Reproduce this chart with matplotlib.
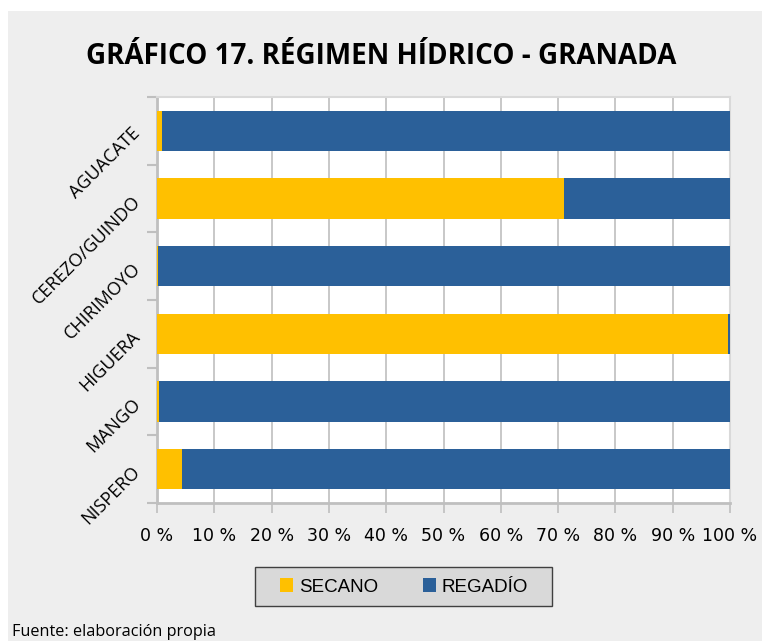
#!/usr/bin/env python3
"""
Gráfico 17 - Régimen hídrico, Granada (barras apiladas al 100 %)
"""

import matplotlib
matplotlib.use('Agg')
import matplotlib.pyplot as plt
from matplotlib.patches import Rectangle
import numpy as np

# Datos
cultivos = ['AGUACATE', 'CEREZO/GUINDO', 'CHIRIMOYO', 'HIGUERA', 'MANGO', 'NISPERO']
secano = [0.9, 71.0, 0.2, 99.6, 0.4, 4.4]
regadio = [99.1, 29.0, 99.8, 0.4, 99.6, 95.6]
xticks_pct = [0, 10, 20, 30, 40, 50, 60, 70, 80, 90, 100]

amarillo = '#FFC000'
azul = '#2B6099'
gris_fondo = '#EEEEEE'
gris_linea = '#BFBFBF'


def main():
    fig = plt.figure(figsize=(7.62, 6.41), dpi=100)
    fig.patch.set_facecolor('white')

    # fondo gris del gráfico
    fig.patches.append(Rectangle((8 / 762, 0), 1, 1 - 11 / 641, transform=fig.transFigure,
                                 facecolor=gris_fondo, edgecolor='none', zorder=-10))

    ax = fig.add_axes([157 / 762, 1 - 503 / 641, 573 / 762, 406 / 641])
    ax.set_facecolor('white')

    y = np.arange(len(cultivos))
    ax.barh(y, secano, height=0.6, color=amarillo, label='SECANO', zorder=3)
    ax.barh(y, regadio, left=secano, height=0.6, color=azul, label='REGADÍO', zorder=3)

    ax.set_xlim(0, 100)
    ax.set_ylim(len(cultivos) - 0.5, -0.5)

    ax.set_xticks(xticks_pct)
    ax.set_xticklabels([f'{v} %' for v in xticks_pct], fontsize=12.5,
                       family=['Liberation Sans Narrow', 'DejaVu Sans'])
    ax.tick_params(axis='x', length=7, width=1.2, color=gris_linea, pad=10)
    ax.grid(True, axis='x', color=gris_linea, linewidth=1.2, zorder=0)

    ax.set_yticks(y)
    ax.set_yticklabels(cultivos, rotation=45, ha='right', va='center',
                       rotation_mode='anchor', fontsize=13, family='Open Sans')
    ax.tick_params(axis='y', which='major', length=0, pad=14)
    ax.set_yticks(np.arange(len(cultivos) + 1) - 0.5, minor=True)
    ax.tick_params(axis='y', which='minor', length=7, width=1.5, color=gris_linea)

    for side in ['left', 'bottom']:
        ax.spines[side].set_color(gris_linea)
        ax.spines[side].set_linewidth(2)
    for side in ['top', 'right']:
        ax.spines[side].set_color('#D9D9D9')
        ax.spines[side].set_linewidth(1.5)

    fig.text(381 / 762, 1 - 56 / 641, 'GRÁFICO 17. RÉGIMEN HÍDRICO - GRANADA',
             ha='center', va='center', fontsize=20, weight='bold', family='Open Sans')

    # caja de la leyenda
    fig.patches.append(Rectangle((255 / 762, 1 - 606 / 641), 297 / 762, 39 / 641,
                                 transform=fig.transFigure, facecolor='#D9D9D9',
                                 edgecolor='#404040', linewidth=1, zorder=1))
    fig.legend(loc='center', bbox_to_anchor=(404 / 762, 1 - 587 / 641), ncol=2,
               frameon=False, prop={'family': 'Liberation Sans', 'size': 13.5},
               handlelength=0.7, handleheight=0.7, handletextpad=0.3,
               columnspacing=2.4)

    fig.text(12 / 762, 1 - 632 / 641, 'Fuente: elaboración propia',
             ha='left', va='center', fontsize=11.7, family='Open Sans')

    fig.savefig('out.png', dpi=100, facecolor=fig.get_facecolor())
    plt.close(fig)


if __name__ == "__main__":
    main()
